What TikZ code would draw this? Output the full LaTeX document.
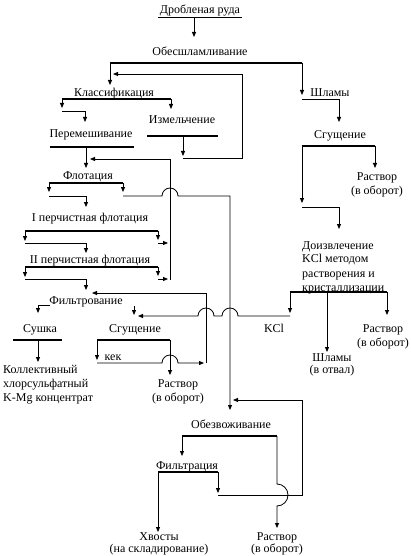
\documentclass[tikz,border=0pt]{standalone}
\usepackage{fontspec}
\setmainfont{Liberation Serif}
\usetikzlibrary{arrows.meta}
\begin{document}
\begin{tikzpicture}[x=1pt,y=-1pt,
  txt/.style={font=\fontsize{12}{14}\selectfont, inner sep=0pt, anchor=base},
  txtl/.style={txt, anchor=base west},
  ln/.style={line width=0.8pt},
  arr/.style={line width=0.8pt,-{Triangle[length=5pt,width=4pt]}},
  bar/.style={line width=2.4pt},
  tbar/.style={line width=1.8pt},
]
\useasboundingbox (0,0) rectangle (410,556);
% ---------- texts ----------
\node[txt] (ruda) at (200,14) {Дробленая руда};
\node[txt] (obes) at (200,56) {Обесшламливание};
\node[txt] (klass) at (114,97) {Классификация};
\node[txt] (shl1) at (330,97) {Шламы};
\node[txt] (izm) at (182,124) {Измельчение};
\node[txt] (perem) at (91,138) {Перемешивание};
\node[txt] (sgR) at (340,139) {Сгущение};
\node[txt] (flot) at (88,179) {Флотация};
\node[txt] (rR1) at (377,180) {Раствор};
\node[txt] (rR1b) at (377,194) {(в оборот)};
\node[txt] (pf1) at (90,221) {I перчистная флотация};
\node[txtl] (doiz1) at (302,249) {Доизвлечение};
\node[txtl] (doiz2) at (302,262) {KCl методом};
\node[txtl] (doiz3) at (302,277) {растворения и};
\node[txtl] (doiz4) at (302,291) {кристаллизации};
\node[txt] (pf2) at (90,263) {II перчистная флотация};
\node[txt] (filt) at (86,304) {Фильтрование};
\node[txt] (sush) at (40,332) {Сушка};
\node[txt] (sgM) at (135,332) {Сгущение};
\node[txt] (kcl) at (274,332) {KCl};
\node[txt] (rR2) at (383,332) {Раствор};
\node[txt] (rR2b) at (383,346) {(в оборот)};
\node[txt] (kek) at (113,360) {кек};
\node[txt] (shl2) at (332,361) {Шламы};
\node[txt] (shl2b) at (332,373) {(в отвал)};
\node[txtl] (kol1) at (3,373) {Коллективный};
\node[txtl] (kol2) at (3,387) {хлорсульфатный};
\node[txtl] (kol3) at (3,401) {K-Mg концентрат};
\node[txt] (rM) at (178,387) {Раствор};
\node[txt] (rMb) at (178,401) {(в оборот)};
\node[txt] (obez) at (231,428) {Обезвоживание};
\node[txt] (filtr) at (187,469) {Фильтрация};
\node[txt] (hv) at (159,540) {Хвосты};
\node[txt] (hvb) at (159,552) {(на складирование)};
\node[txt] (rB) at (277,540) {Раствор};
\node[txt] (rBb) at (277,552) {(в оборот)};
% ---------- bars ----------
\draw[line width=1.2pt] (158,17.5) -- (242,17.5);
\draw[bar] (110,63) -- (302,63);
\draw[tbar] (62,99) -- (171,99);
\draw[bar] (147,136) -- (218,136);
\draw[bar] (50,147) -- (134,147);
\draw[bar] (302,146) -- (375,146);
\draw[bar] (49,183) -- (123,183);
\draw[bar] (25,231) -- (158,231);
\draw[bar] (25,267) -- (158,267);
\draw[bar] (290,292) -- (387,292);
\draw[bar] (13,340) -- (62,340);
\draw[bar] (97,340) -- (170,340);
\draw[bar] (182,436) -- (277,436);
\draw[tbar] (158,472) -- (218,472);
% ---------- connectors ----------
\draw[arr] (194,18) -- (194,37);
\draw[arr] (110,63) -- (110,85);
\draw[arr] (302,63) -- (302,95);
\draw[arr] (302,99) -- (339,99) -- (339,122);
\draw[arr] (183,136) -- (183,156);
\draw[arr] (183,158) -- (242,158) -- (242,74) -- (113,74);
\draw[arr] (62,99) -- (62,108);
\draw[arr] (62,111) -- (85,111) -- (85,122);
\draw[arr] (171,99) -- (171,109);
\draw[arr] (86,147) -- (86,168);
\draw[arr] (170,280) -- (170,159) -- (90,159);
\draw[arr] (49,183) -- (49,192);
\draw[arr] (49,196) -- (86,196) -- (86,207);
\draw[arr] (123,183) -- (123,192);
\draw[arr] (123,196) -- (162,196) arc[start angle=180,end angle=0,radius=8pt] -- (230,196) -- (230,410);
\draw[arr] (25,231) -- (25,241);
\draw[arr] (25,243) -- (86,243) -- (86,253);
\draw[arr] (158,231) -- (158,240);
\draw[arr] (158,243) -- (168,243);
\draw[arr] (25,267) -- (25,277);
\draw[arr] (25,279) -- (86,279) -- (86,290);
\draw[arr] (158,267) -- (158,276);
\draw[arr] (158,279) -- (168,279);
% Fil'trovanie outputs
\draw[arr] (50,305) -- (38,305) -- (38,313);
\draw[arr] (134,306) -- (134,315);
\draw[arr] (38,340) -- (38,362);
% Sgushchenie (middle)
\draw[arr] (97,340) -- (97,360);
\draw[arr] (97,363) -- (162,363) arc[start angle=180,end angle=0,radius=8pt] -- (204,363);
\draw[arr] (206,363) -- (206,293) -- (92,293);
\draw[arr] (170,340) -- (170,375);
% KCl line
\draw[arr] (290,292) -- (290,313);
\draw[arr] (290,316) -- (238,316) arc[start angle=0,end angle=180,radius=8pt] -- (214,316) arc[start angle=0,end angle=180,radius=8pt] -- (138,316);
\draw[arr] (327,292) -- (327,352);
\draw[arr] (387,292) -- (387,315);
% right Sgushchenie
\draw[arr] (375,146) -- (375,168);
\draw[arr] (302,146) -- (302,203);
\draw[arr] (302,207) -- (339,207) -- (339,229);
% bottom
\draw[arr] (218,495) -- (302,495) -- (302,400) -- (233,400);
\draw[arr] (182,436) -- (182,456);
\draw[arr] (277,436) -- (277,484) arc[start angle=90,end angle=-90,radius=11pt] -- (277,528);
\draw[arr] (158,472) -- (158,532);
\draw[arr] (218,472) -- (218,493);
\end{tikzpicture}
\end{document}
